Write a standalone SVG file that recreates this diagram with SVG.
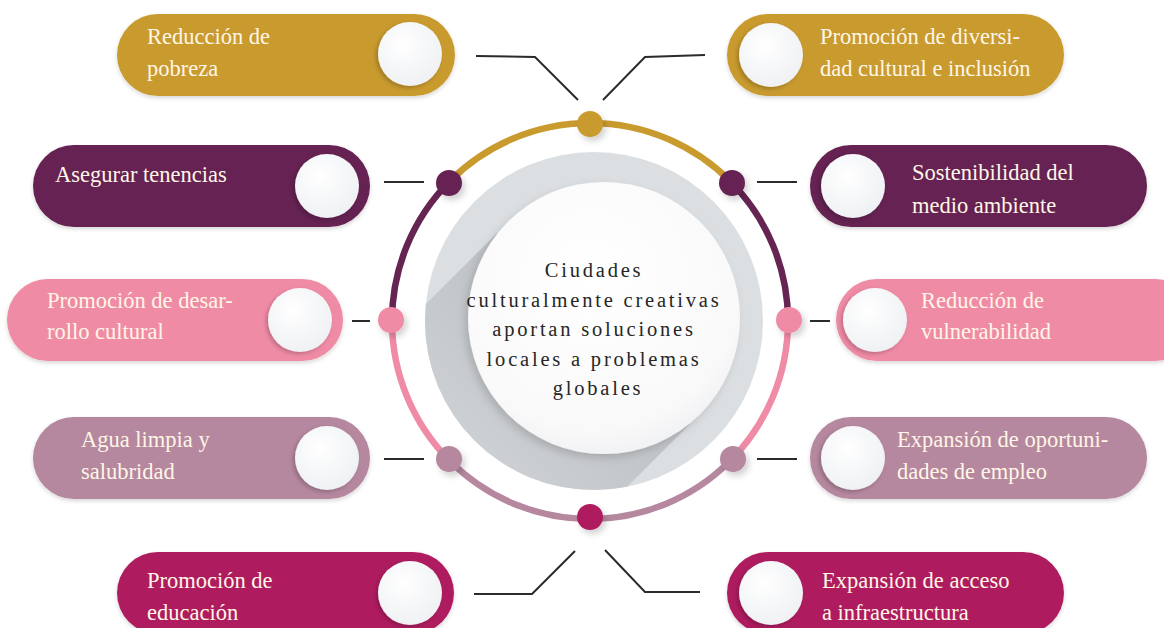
<svg xmlns="http://www.w3.org/2000/svg" width="1164" height="628" viewBox="0 0 1164 628">
<style>
.pill-text{font-family:"Liberation Serif","DejaVu Serif",serif;font-size:22.5px;fill:#FFF6E6}
.center-text{font-family:"Liberation Serif","DejaVu Serif",serif;font-size:20.5px;letter-spacing:2.8px;fill:#262626;text-anchor:middle}
.conn{fill:none;stroke:#2B2B2B;stroke-width:2}
.ring{fill:none;stroke-width:6.5}
.knob{fill:url(#knobGrad);filter:url(#knobShadow)}
.pill{filter:url(#pillShadow)}
</style>
<defs>
<radialGradient id="knobGrad" cx="0.4" cy="0.35" r="0.7">
<stop offset="0" stop-color="#FFFFFF"/>
<stop offset="1" stop-color="#EEF0F3"/>
</radialGradient>
<radialGradient id="whiteGrad" cx="0.45" cy="0.35" r="0.7">
<stop offset="0" stop-color="#FFFFFF"/>
<stop offset="0.8" stop-color="#F9F9FA"/>
<stop offset="1" stop-color="#EEEFF1"/>
</radialGradient>
<linearGradient id="longShadow" x1="0.75" y1="0.25" x2="0.25" y2="0.75">
<stop offset="0" stop-color="#BCBFC3"/>
<stop offset="1" stop-color="#D6D9DC"/>
</linearGradient>
<filter id="knobShadow" x="-30%" y="-30%" width="160%" height="160%">
<feDropShadow dx="-2" dy="2" stdDeviation="2" flood-color="#000" flood-opacity="0.22"/>
</filter>
<filter id="whiteShadow" x="-20%" y="-20%" width="140%" height="140%">
<feDropShadow dx="-3" dy="4" stdDeviation="4" flood-color="#000" flood-opacity="0.15"/>
</filter>
<filter id="pillShadow" x="-5%" y="-10%" width="110%" height="130%">
<feDropShadow dx="0" dy="2" stdDeviation="2" flood-color="#000" flood-opacity="0.16"/>
</filter>
<filter id="dotShadow" x="-50%" y="-50%" width="220%" height="220%">
<feDropShadow dx="3" dy="4" stdDeviation="3" flood-color="#000" flood-opacity="0.18"/>
</filter>
<clipPath id="diskClip"><circle cx="594" cy="321" r="169"/></clipPath>
</defs>

<rect width="1164" height="628" fill="#FFFFFF"/>

<g id="center-hub">
<circle cx="594" cy="321" r="169" fill="#DCDFE2"/>
<g clip-path="url(#diskClip)">
<polygon points="508,222 308,422 500,614 700,414" fill="url(#longShadow)"/>
</g>
<circle cx="604" cy="318" r="136" fill="url(#whiteGrad)" filter="url(#whiteShadow)"/>
<text class="center-text">
<tspan x="598" y="277">Ciudades</tspan>
<tspan x="598" y="306.5">culturalmente creativas</tspan>
<tspan x="598" y="336">aportan soluciones</tspan>
<tspan x="598" y="365.5">locales a problemas</tspan>
<tspan x="598" y="395">globales</tspan>
</text>
</g>

<g id="ring">
<path class="ring" stroke="#C99A2E" d="M450,181 A198,198 0 0 1 730,181"/>
<path class="ring" stroke="#652452" d="M730,181 A198,198 0 0 1 788,321"/>
<path class="ring" stroke="#F08BA6" d="M788,321 A198,198 0 0 1 730,461"/>
<path class="ring" stroke="#B5889F" d="M730,461 A198,198 0 0 1 590,519"/>
<path class="ring" stroke="#B5889F" d="M590,519 A198,198 0 0 1 450,461"/>
<path class="ring" stroke="#F08BA6" d="M450,461 A198,198 0 0 1 392,321"/>
<path class="ring" stroke="#652452" d="M392,321 A198,198 0 0 1 450,181"/>
<g filter="url(#dotShadow)">
<circle cx="590" cy="124" r="13" fill="#C99A2E"/>
<circle cx="449" cy="183" r="13" fill="#652452"/>
<circle cx="732" cy="183" r="13" fill="#652452"/>
<circle cx="391" cy="320" r="13" fill="#F08BA6"/>
<circle cx="789" cy="320" r="13" fill="#F08BA6"/>
<circle cx="449" cy="459" r="13" fill="#B5889F"/>
<circle cx="733" cy="459" r="13" fill="#B5889F"/>
<circle cx="590" cy="517" r="13" fill="#AE1F5E"/>
</g>
</g>

<g id="connectors">
<polyline class="conn" points="476,56 535,57 578,100"/>
<polyline class="conn" points="705,55 645,57 603,100"/>
<line class="conn" x1="384" y1="182" x2="424" y2="182"/>
<line class="conn" x1="757" y1="182" x2="797" y2="182"/>
<line class="conn" x1="352" y1="321" x2="370" y2="321"/>
<line class="conn" x1="810" y1="321" x2="830" y2="321"/>
<line class="conn" x1="384" y1="459" x2="424" y2="459"/>
<line class="conn" x1="757" y1="459" x2="797" y2="459"/>
<polyline class="conn" points="474,594 532,594 575,551"/>
<polyline class="conn" points="605,550 645,592 700,592"/>
</g>

<g id="node-reduccion-pobreza">
<rect class="pill" x="117" y="14" width="338" height="82" rx="41" fill="#C99A2E"/>
<circle class="knob" cx="410" cy="54" r="32"/>
<text class="pill-text"><tspan x="147" y="44">Reducción de</tspan><tspan x="147" y="76">pobreza</tspan></text>
</g>

<g id="node-diversidad">
<rect class="pill" x="727" y="14" width="337" height="82" rx="41" fill="#C99A2E"/>
<circle class="knob" cx="771" cy="55" r="32"/>
<text class="pill-text"><tspan x="820" y="44">Promoción de diversi-</tspan><tspan x="820" y="76">dad cultural e inclusión</tspan></text>
</g>

<g id="node-tenencias">
<rect class="pill" x="33" y="145" width="337" height="82" rx="41" fill="#652452"/>
<circle class="knob" cx="327" cy="186" r="32"/>
<text class="pill-text"><tspan x="55" y="182">Asegurar tenencias</tspan></text>
</g>

<g id="node-sostenibilidad">
<rect class="pill" x="810" y="145" width="337" height="82" rx="41" fill="#652452"/>
<circle class="knob" cx="853" cy="186" r="32"/>
<text class="pill-text"><tspan x="912" y="180">Sostenibilidad del</tspan><tspan x="912" y="213">medio ambiente</tspan></text>
</g>

<g id="node-desarrollo-cultural">
<rect class="pill" x="7" y="279" width="336" height="82" rx="41" fill="#F08BA6"/>
<circle class="knob" cx="300" cy="320" r="32"/>
<text class="pill-text"><tspan x="47" y="308">Promoción de desar-</tspan><tspan x="47" y="339">rollo cultural</tspan></text>
</g>

<g id="node-vulnerabilidad">
<rect class="pill" x="836" y="279" width="360" height="82" rx="41" fill="#F08BA6"/>
<circle class="knob" cx="875" cy="320" r="32"/>
<text class="pill-text"><tspan x="921" y="308">Reducción de</tspan><tspan x="921" y="339">vulnerabilidad</tspan></text>
</g>

<g id="node-agua">
<rect class="pill" x="33" y="417" width="337" height="82" rx="41" fill="#B5889F"/>
<circle class="knob" cx="327" cy="458" r="32"/>
<text class="pill-text"><tspan x="81" y="447">Agua limpia y</tspan><tspan x="81" y="479">salubridad</tspan></text>
</g>

<g id="node-empleo">
<rect class="pill" x="810" y="417" width="337" height="82" rx="41" fill="#B5889F"/>
<circle class="knob" cx="853" cy="458" r="32"/>
<text class="pill-text"><tspan x="897" y="447">Expansión de oportuni-</tspan><tspan x="897" y="479">dades de empleo</tspan></text>
</g>

<g id="node-educacion">
<rect class="pill" x="117" y="552" width="337" height="82" rx="41" fill="#AE1F5E"/>
<circle class="knob" cx="410" cy="593" r="32"/>
<text class="pill-text"><tspan x="147" y="588">Promoción de</tspan><tspan x="147" y="620">educación</tspan></text>
</g>

<g id="node-infraestructura">
<rect class="pill" x="727" y="552" width="337" height="82" rx="41" fill="#AE1F5E"/>
<circle class="knob" cx="771" cy="593" r="32"/>
<text class="pill-text"><tspan x="822" y="588">Expansión de acceso</tspan><tspan x="822" y="620">a infraestructura</tspan></text>
</g>
</svg>
